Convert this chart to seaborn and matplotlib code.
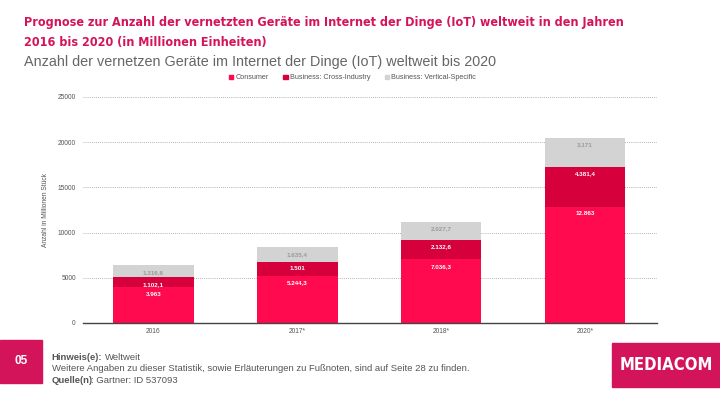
import pandas as pd
import matplotlib.pyplot as plt
import seaborn as sns
from matplotlib.patches import Rectangle

# data (Mio. Stück)
years = ['2016', '2017*', '2018*', '2020*']
consumer = [3963, 5244.3, 7036.3, 12863]
cross_industry = [1102.1, 1501, 2132.6, 4381.4]
vertical_specific = [1316.6, 1635.4, 2027.7, 3171]
consumer_labels = ['3.963', '5.244,3', '7.036,3', '12.863']
cross_labels = ['1.102,1', '1.501', '2.132,6', '4.381,4']
vertical_labels = ['1.316,6', '1.635,4', '2.027,7', '3.171']

series_names = ['Consumer', 'Business: Cross-Industry', 'Business: Vertical-Specific']
colors = ['#FF0A4F', '#D6003C', '#D3D3D3']
pink = '#D4145A'

df = pd.DataFrame({'year': years, 'consumer': consumer,
                   'cross': cross_industry, 'vertical': vertical_specific})
df['lvl1'] = df['consumer']
df['lvl2'] = df['consumer'] + df['cross']
df['lvl3'] = df['lvl2'] + df['vertical']

sns.set_style('white')
plt.rcParams['font.family'] = ['Liberation Sans', 'DejaVu Sans']

fig = plt.figure(figsize=(7.2, 4.05), dpi=100)
ax = fig.add_axes([0.115, 0.2025, 0.7975, 0.558])

# stacked bars drawn as cumulative layers, back to front
for col, c in zip(['lvl3', 'lvl2', 'lvl1'], colors[::-1]):
    sns.barplot(data=df, x='year', y=col, color=c, width=0.56, ax=ax,
                saturation=1, linewidth=0)

ax.set_xlim(-0.49, 3.5)
ax.set_ylim(0, 25000)
ax.set_yticks(range(0, 25001, 5000))
ax.yaxis.grid(True, linestyle=(0, (1, 1.5)), color='#9a9a9a', linewidth=0.6)
ax.set_axisbelow(True)
for s in ['top', 'right', 'left']:
    ax.spines[s].set_visible(False)
ax.spines['bottom'].set_color('#444444')
ax.spines['bottom'].set_linewidth(1.0)
ax.tick_params(axis='both', length=0, labelsize=4.8, colors='#555555')
ax.tick_params(axis='y', pad=5)
ax.set_xlabel('')
ax.set_ylabel('Anzahl in Millionen Stück', fontsize=4.8, color='#555555', labelpad=6)

# segment labels, just under the top of each segment
for i in range(len(years)):
    tops = [df['lvl1'][i], df['lvl2'][i], df['lvl3'][i]]
    texts = [consumer_labels[i], cross_labels[i], vertical_labels[i]]
    tcols = ['white', 'white', '#9a9a9a']
    for top, t, tc in zip(tops, texts, tcols):
        ax.annotate(t, (i, top), xytext=(0, -5), textcoords='offset points',
                    ha='center', va='center', fontsize=4.5, color=tc,
                    fontweight='bold')

# legend
handles = [Rectangle((0, 0), 1, 1, color=c) for c in colors]
ax.legend(handles, series_names, loc='lower center', bbox_to_anchor=(0.47, 1.04),
          ncol=3, frameon=False, fontsize=5.2, handlelength=0.6, handleheight=0.6,
          handletextpad=0.3, columnspacing=2.0, labelcolor='#555555')

# titles
title_font = dict(family='DejaVu Sans', fontstretch='condensed')
fig.text(0.034, 0.945, 'Prognose zur Anzahl der vernetzten Geräte im Internet der Dinge (IoT) weltweit in den Jahren',
         fontsize=9, fontweight='bold', color=pink, va='center', **title_font)
fig.text(0.034, 0.895, '2016 bis 2020 (in Millionen Einheiten)',
         fontsize=9, fontweight='bold', color=pink, va='center', **title_font)
fig.text(0.033, 0.847, 'Anzahl der vernetzen Geräte im Internet der Dinge (IoT) weltweit bis 2020',
         fontsize=10.4, color='#666666', va='center')

# footer
fig.patches.append(Rectangle((0, 0.055), 0.058, 0.105, transform=fig.transFigure,
                             color=pink, zorder=0))
fig.text(0.029, 0.108, '05', fontsize=8.5, fontweight='bold', color='white',
         ha='center', va='center')
fig.text(0.072, 0.118, 'Hinweis(e):', fontsize=6.8, fontweight='bold', color='#555555', va='center')
fig.text(0.146, 0.118, 'Weltweit', fontsize=6.8, color='#555555', va='center')
fig.text(0.072, 0.089, 'Weitere Angaben zu dieser Statistik, sowie Erläuterungen zu Fußnoten, sind auf Seite 28 zu finden.',
         fontsize=6.8, color='#555555', va='center')
fig.text(0.072, 0.061, 'Quelle(n)', fontsize=6.8, fontweight='bold', color='#555555', va='center')
fig.text(0.1265, 0.061, ': Gartner: ID 537093', fontsize=6.8, color='#555555', va='center')

fig.patches.append(Rectangle((0.85, 0.045), 0.15, 0.108, transform=fig.transFigure,
                             color=pink, zorder=0))
fig.text(0.925, 0.099, 'MEDIACOM', fontsize=12, fontweight='bold', color='white',
         ha='center', va='center', **title_font)

fig.savefig('out.png', dpi=100)
